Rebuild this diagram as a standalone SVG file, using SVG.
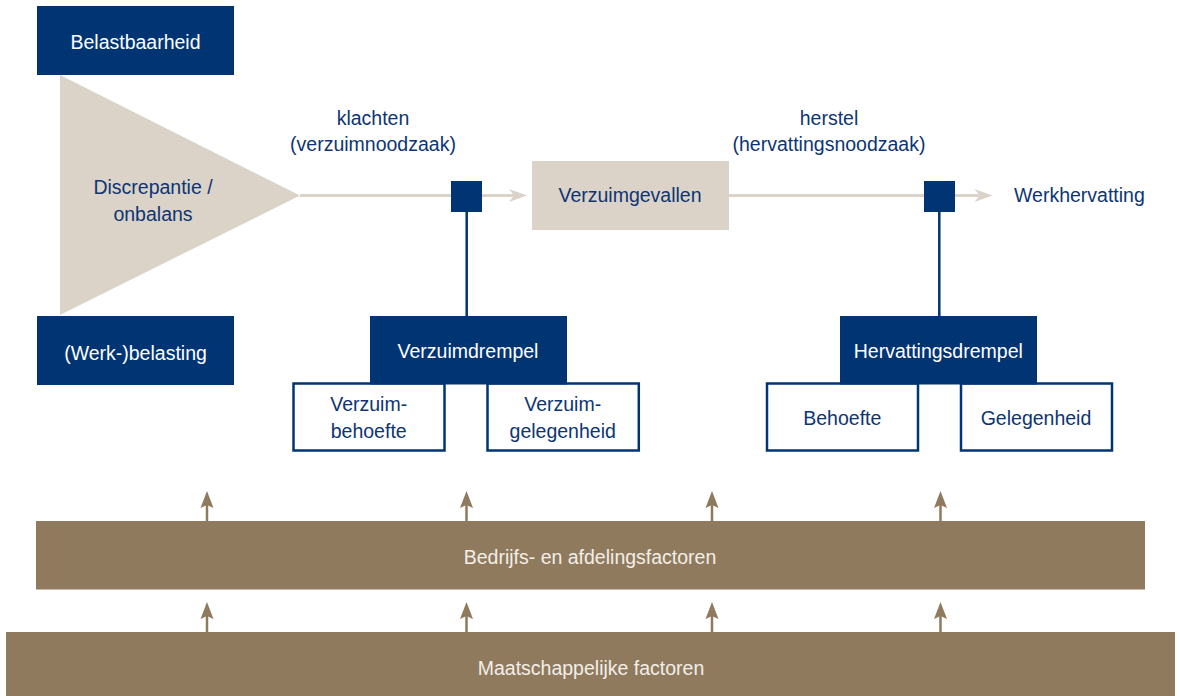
<svg xmlns="http://www.w3.org/2000/svg" width="1180" height="696" viewBox="0 0 1180 696">
<style>
text{font-family:"Liberation Sans",Arial,sans-serif;font-size:19.5px;text-anchor:middle}
.navy{fill:#003473}
.beige{fill:#dcd3c8}
.brown{fill:#8f7a5e}
.out{fill:#ffffff;stroke:#003473;stroke-width:2.5}
.tw{fill:#ffffff}
.tb{fill:#f3eee7}
.tn{fill:#0d3573}
.flow{stroke:#dcd3c8;stroke-width:3;fill:none}
.stem{stroke:#003473;stroke-width:2.5;fill:none}
.up{stroke:#8f7a5e;stroke-width:2.5;fill:none;marker-end:url(#brownHead)}
</style>
<defs>
<marker id="beigeHead" markerUnits="userSpaceOnUse" markerWidth="18" markerHeight="14" refX="5" refY="6.5" orient="auto" overflow="visible">
<path d="M0,0 L18,6.5 L0,13 L5,6.5 Z" fill="#dcd3c8"/>
</marker>
<marker id="brownHead" markerUnits="userSpaceOnUse" markerWidth="17" markerHeight="13" refX="3" refY="6.5" orient="auto" overflow="visible">
<path d="M0,0 L17,6.5 L0,13 L3,6.5 Z" fill="#8f7a5e"/>
</marker>
</defs>

<g id="connectors">
<line class="flow" x1="300" y1="195.5" x2="451" y2="195.5"/>
<line class="flow" x1="482" y1="195.5" x2="514" y2="195.5" marker-end="url(#beigeHead)"/>
<line class="flow" x1="729" y1="195.5" x2="924" y2="195.5"/>
<line class="flow" x1="955" y1="195.5" x2="979.5" y2="195.5" marker-end="url(#beigeHead)"/>
<line class="stem" x1="466.7" y1="211" x2="466.7" y2="317"/>
<line class="stem" x1="939.3" y1="211" x2="939.3" y2="317"/>
<line class="up" x1="207" y1="521" x2="207" y2="505"/>
<line class="up" x1="466.5" y1="521" x2="466.5" y2="505"/>
<line class="up" x1="712" y1="521" x2="712" y2="505"/>
<line class="up" x1="940.5" y1="521" x2="940.5" y2="505"/>
<line class="up" x1="207" y1="632" x2="207" y2="616"/>
<line class="up" x1="466.5" y1="632" x2="466.5" y2="616"/>
<line class="up" x1="712" y1="632" x2="712" y2="616"/>
<line class="up" x1="940.5" y1="632" x2="940.5" y2="616"/>
</g>

<g id="belastbaarheid">
<rect class="navy" x="37" y="6" width="197" height="69"/>
<text class="tw" x="135.5" y="49.3">Belastbaarheid</text>
</g>

<g id="discrepantie">
<polygon class="beige" points="60,75 300,195.5 60,315"/>
<text class="tn" x="153" y="194.3">Discrepantie /</text>
<text class="tn" x="153" y="220.7">onbalans</text>
</g>

<g id="werkbelasting">
<rect class="navy" x="37" y="316" width="197" height="69"/>
<text class="tw" x="135.5" y="359.5">(Werk-)belasting</text>
</g>

<g id="klachten">
<text class="tn" x="373" y="125">klachten</text>
<text class="tn" x="373" y="150.7">(verzuimnoodzaak)</text>
</g>

<g id="verzuimpunt">
<rect class="navy" x="451" y="181" width="31" height="31"/>
</g>

<g id="verzuimgevallen">
<rect class="beige" x="532" y="161" width="197" height="69"/>
<text class="tn" x="630" y="201.7">Verzuimgevallen</text>
</g>

<g id="herstel">
<text class="tn" x="829" y="125">herstel</text>
<text class="tn" x="829" y="151">(hervattingsnoodzaak)</text>
</g>

<g id="hervattingspunt">
<rect class="navy" x="924" y="181" width="31" height="31"/>
</g>

<g id="werkhervatting">
<text class="tn" x="1014" y="201.7" style="text-anchor:start">Werkhervatting</text>
</g>

<g id="verzuimbehoefte">
<rect class="out" x="293.5" y="383.5" width="151" height="67"/>
<text class="tn" x="368.7" y="411">Verzuim-</text>
<text class="tn" x="368.7" y="437.7">behoefte</text>
</g>

<g id="verzuimgelegenheid">
<rect class="out" x="487.5" y="383.5" width="151.3" height="67"/>
<text class="tn" x="562.7" y="411">Verzuim-</text>
<text class="tn" x="562.7" y="437.7">gelegenheid</text>
</g>

<g id="verzuimdrempel">
<rect class="navy" x="370" y="316" width="197" height="68.5"/>
<text class="tw" x="468" y="358">Verzuimdrempel</text>
</g>

<g id="behoefte">
<rect class="out" x="767" y="383.5" width="151" height="67"/>
<text class="tn" x="842.3" y="425">Behoefte</text>
</g>

<g id="gelegenheid">
<rect class="out" x="961" y="383.5" width="151" height="67"/>
<text class="tn" x="1036" y="425">Gelegenheid</text>
</g>

<g id="hervattingsdrempel">
<rect class="navy" x="840" y="316" width="197" height="68.5"/>
<text class="tw" x="938.3" y="358">Hervattingsdrempel</text>
</g>

<g id="bedrijfsfactoren">
<rect class="brown" x="36" y="521" width="1109" height="68.5"/>
<text class="tb" x="590" y="564.3">Bedrijfs- en afdelingsfactoren</text>
</g>

<g id="maatschappelijk">
<rect class="brown" x="6" y="632" width="1169" height="64"/>
<text class="tb" x="591" y="675">Maatschappelijke factoren</text>
</g>
</svg>
